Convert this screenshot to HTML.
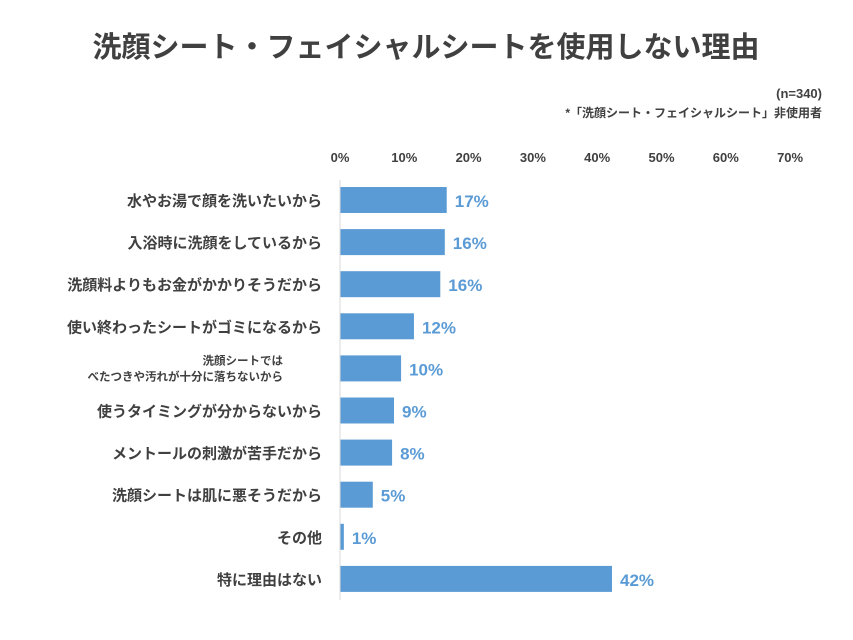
<!DOCTYPE html>
<html><head><meta charset="utf-8">
<style>
body{margin:0;background:#fff;font-family:"Liberation Sans","Noto Sans CJK JP",sans-serif;}
#wrap{position:relative;width:853px;height:640px;overflow:hidden;}
svg text{font-family:"Liberation Sans","Noto Sans CJK JP",sans-serif;}
</style></head>
<body>
<div id="wrap">
<svg id="chart" width="853" height="640">
<text x="426" y="57" text-anchor="middle" font-size="29" font-weight="bold" fill="#404040">洗顔シート・フェイシャルシートを使用しない理由</text>
<text x="822" y="98" text-anchor="end" font-size="13" font-weight="bold" fill="#404040">(n=340)</text>
<text x="822" y="117" text-anchor="end" font-size="12" font-weight="bold" fill="#404040">*「洗顔シート・フェイシャルシート」非使用者</text>
</svg>
</div>
<script>
const categories=["水やお湯で顔を洗いたいから","入浴時に洗顔をしているから","洗顔料よりもお金がかかりそうだから","使い終わったシートがゴミになるから","洗顔シートでは|べたつきや汚れが十分に落ちないから","使うタイミングが分からないから","メントールの刺激が苦手だから","洗顔シートは肌に悪そうだから","その他","特に理由はない"];
const values=[16.6,16.3,15.6,11.5,9.5,8.4,8.1,5.1,0.6,42.3];
const valueLabels=["17%","16%","16%","12%","10%","9%","8%","5%","1%","42%"];
const ticks=[0,10,20,30,40,50,60,70];
const svg=document.getElementById('chart');
const NS="http://www.w3.org/2000/svg";
const x0=340,pxPer=6.43,y0=200,step=42.1,bh=26;
const xs=v=>x0+v*pxPer;
const ys=i=>y0+i*step;
function mk(t,a){const e=document.createElementNS(NS,t);for(const k in a)e.setAttribute(k,a[k]);svg.appendChild(e);return e;}
ticks.forEach(t=>{const e=mk('text',{x:xs(t),y:162,'text-anchor':'middle','font-size':13,'font-weight':'bold',fill:'#404040'});e.textContent=t+'%';

});
categories.forEach((c,i)=>{
 const y=ys(i);
 const r=mk('rect',{x:x0,y:y-bh/2,width:Math.max(0,xs(values[i])-x0),height:bh,fill:'#5b9bd5'});
 
 
 const v=mk('text',{x:xs(values[i])+8,y:y+7,'font-size':17,'font-weight':'bold',fill:'#5b9bd5'});v.textContent=valueLabels[i];
 
 
 const parts=c.split('|');
 if(parts.length===1){
  const l=mk('text',{x:322,y:y+6,'text-anchor':'end','font-size':15,'font-weight':'bold',fill:'#404040'});l.textContent=c;
  
  
 }else{
  const l1=mk('text',{x:283,y:y-4,'text-anchor':'end','font-size':11.5,'font-weight':'bold',fill:'#404040'});l1.textContent=parts[0];
  
  
  const l2=mk('text',{x:283,y:y+12,'text-anchor':'end','font-size':11.5,'font-weight':'bold',fill:'#404040'});l2.textContent=parts[1];
  
  
 }
});
const ax=mk('line',{x1:x0,x2:x0,y1:180,y2:600,stroke:'#d9d9d9','stroke-width':1});


</script>
</body></html>
